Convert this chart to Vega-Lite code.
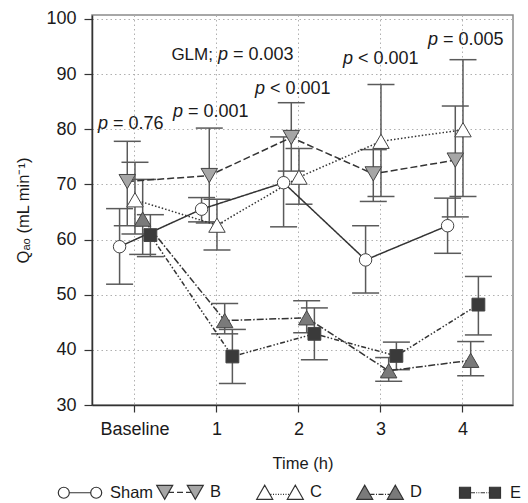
{
  "$schema": "https://vega.github.io/schema/vega-lite/v6.json",
  "width": 421,
  "height": 390,
  "autosize": {"type": "none"},
  "padding": {"left": 92, "top": 15, "right": 15, "bottom": 98},
  "config": {
    "font": "Liberation Sans",
    "view": {"stroke": "#8a8a8a", "strokeWidth": 1.5},
    "axis": {
      "domainColor": "#333333", "domainWidth": 1.5, "tickColor": "#333333", "tickWidth": 1.2,
      "labelFontSize": 18, "labelColor": "#1a1a1a", "titleFontSize": 16.5, "titleFontWeight": "normal",
      "titleColor": "#1a1a1a", "gridColor": "#b0b0b0", "gridDash": [1.5, 3], "gridWidth": 1
    }
  },
  "datasets": {
    "stats": [
      {"group": "Sham", "time": "Baseline", "t": 0, "mean": 58.7, "lo": 51.9, "hi": 65.6},
      {"group": "B", "time": "Baseline", "t": 0, "mean": 70.5, "lo": 62.5, "hi": 77.8},
      {"group": "C", "time": "Baseline", "t": 0, "mean": 67.2, "lo": 61.0, "hi": 74.0},
      {"group": "D", "time": "Baseline", "t": 0, "mean": 63.7, "lo": 57.3, "hi": 70.9},
      {"group": "E", "time": "Baseline", "t": 0, "mean": 60.8, "lo": 56.9, "hi": 64.5},
      {"group": "Sham", "time": "1", "t": 1, "mean": 65.5, "lo": 63.2, "hi": 67.6},
      {"group": "B", "time": "1", "t": 1, "mean": 71.6, "lo": 63.0, "hi": 80.2},
      {"group": "C", "time": "1", "t": 1, "mean": 62.6, "lo": 58.1, "hi": 67.3},
      {"group": "D", "time": "1", "t": 1, "mean": 45.3, "lo": 42.9, "hi": 48.4},
      {"group": "E", "time": "1", "t": 1, "mean": 38.8, "lo": 33.9, "hi": 43.7},
      {"group": "Sham", "time": "2", "t": 2, "mean": 70.3, "lo": 62.3, "hi": 78.6},
      {"group": "B", "time": "2", "t": 2, "mean": 78.5, "lo": 72.4, "hi": 84.8},
      {"group": "C", "time": "2", "t": 2, "mean": 71.3, "lo": 66.4, "hi": 76.5},
      {"group": "D", "time": "2", "t": 2, "mean": 45.8, "lo": 43.1, "hi": 48.9},
      {"group": "E", "time": "2", "t": 2, "mean": 42.9, "lo": 38.2, "hi": 47.6},
      {"group": "Sham", "time": "3", "t": 3, "mean": 56.3, "lo": 50.3, "hi": 62.5},
      {"group": "B", "time": "3", "t": 3, "mean": 71.9, "lo": 66.9, "hi": 76.3},
      {"group": "C", "time": "3", "t": 3, "mean": 77.8, "lo": 67.8, "hi": 88.1},
      {"group": "D", "time": "3", "t": 3, "mean": 36.2, "lo": 34.3, "hi": 38.6},
      {"group": "E", "time": "3", "t": 3, "mean": 38.9, "lo": 36.4, "hi": 41.4},
      {"group": "Sham", "time": "4", "t": 4, "mean": 62.5, "lo": 57.5, "hi": 67.5},
      {"group": "B", "time": "4", "t": 4, "mean": 74.4, "lo": 64.1, "hi": 84.2},
      {"group": "C", "time": "4", "t": 4, "mean": 79.9, "lo": 67.8, "hi": 92.6},
      {"group": "D", "time": "4", "t": 4, "mean": 38.1, "lo": 35.3, "hi": 41.5},
      {"group": "E", "time": "4", "t": 4, "mean": 48.2, "lo": 42.7, "hi": 53.3}
    ],
    "notes": [
      {"tx": -0.268, "ty": 81.0, "sym": "p", "rest": "= 0.76", "pre": ""},
      {"tx": 0.646, "ty": 83.2, "sym": "p", "rest": "= 0.001", "pre": ""},
      {"tx": 1.195, "ty": 93.4, "sym": "p", "rest": "= 0.003", "pre": "GLM;"},
      {"tx": 1.646, "ty": 87.3, "sym": "p", "rest": "< 0.001", "pre": ""},
      {"tx": 2.72, "ty": 92.7, "sym": "p", "rest": "< 0.001", "pre": ""},
      {"tx": 3.756, "ty": 96.1, "sym": "p", "rest": "= 0.005", "pre": ""}
    ]
  },
  "resolve": {"scale": {"x": "independent", "y": "independent"}},
  "layer": [
    {
      "data": {"name": "stats"},
      "encoding": {
        "x": {
          "field": "time", "type": "nominal",
          "scale": {"domain": ["Baseline", "1", "2", "3", "4"], "paddingInner": 0, "paddingOuter": 0.067, "align": 0.18},
          "axis": {"title": "Time (h)", "labelAngle": 0, "tickSize": 7, "labelPadding": 8, "titlePadding": 17, "grid": true, "bandPosition": 0.5}
        },
        "xOffset": {
          "field": "group", "type": "nominal",
          "scale": {"domain": ["Sham", "B", "C", "D", "E"], "paddingInner": 0, "paddingOuter": 0, "range": [21.75, 60.25]}
        }
      },
      "resolve": {"scale": {"shape": "independent", "fill": "independent"}},
      "layer": [
        {
          "mark": {"type": "rule", "color": "#5a5a5a", "strokeWidth": 1.5},
          "encoding": {
            "y": {
              "field": "lo", "type": "quantitative",
              "scale": {"domain": [30, 100.7], "nice": false, "zero": false},
              "axis": {
                "title": "Qₐₒ (mL min⁻¹)",
                "values": [30, 35, 40, 45, 50, 55, 60, 65, 70, 75, 80, 85, 90, 95, 100],
                "labelExpr": "datum.value % 10 === 0 ? datum.label : ''",
                "tickSize": 8, "labelPadding": 8, "titlePadding": 14, "grid": true,
                "gridOpacity": {"condition": {"test": "datum.value % 10 !== 0", "value": 0}, "value": 1}
              }
            },
            "y2": {"field": "hi"}
          }
        },
        {
          "mark": {"type": "tick", "color": "#5a5a5a", "thickness": 1.5, "size": 27, "orient": "horizontal", "opacity": 1},
          "encoding": {"y": {"field": "hi", "type": "quantitative"}}
        },
        {
          "mark": {"type": "tick", "color": "#5a5a5a", "thickness": 1.5, "size": 27, "orient": "horizontal", "opacity": 1},
          "encoding": {"y": {"field": "lo", "type": "quantitative"}}
        },
        {
          "mark": {"type": "line", "color": "#333333", "strokeWidth": 1.5},
          "encoding": {
            "y": {"field": "mean", "type": "quantitative"},
            "order": {"field": "t", "type": "quantitative"},
            "strokeDash": {
              "field": "group", "type": "nominal",
              "scale": {"domain": ["Sham", "B", "C", "D", "E"], "range": [[1, 0], [7, 3], [1.5, 2], [7, 2, 1.5, 2], [5, 2, 1.5, 2, 1.5, 2]]},
              "legend": null
            }
          }
        },
        {
          "mark": {"type": "point", "filled": true, "stroke": "#444444", "strokeWidth": 1, "opacity": 1},
          "encoding": {
            "y": {"field": "mean", "type": "quantitative"},
            "shape": {
              "field": "group", "type": "nominal",
              "scale": {"domain": ["Sham", "B", "C", "D", "E"], "range": ["circle", "triangle-down", "triangle-up", "triangle-up", "square"]},
              "legend": null
            },
            "fill": {
              "field": "group", "type": "nominal",
              "scale": {"domain": ["Sham", "B", "C", "D", "E"], "range": ["#ffffff", "#a6a6a6", "#ffffff", "#7a7a7a", "#3a3a3a"]},
              "legend": null
            },
            "size": {
              "field": "group", "type": "nominal",
              "scale": {"type": "ordinal", "domain": ["Sham", "B", "C", "D", "E"], "range": [155, 270, 270, 270, 165]},
              "legend": null
            }
          }
        },
        {
          "transform": [{"filter": "false"}],
          "mark": {"type": "point", "filled": true, "stroke": "#333333", "strokeWidth": 1.2, "opacity": 1},
          "encoding": {
            "shape": {
              "field": "group", "type": "nominal",
              "scale": {
                "domain": ["Sham", "B", "C", "D", "E"],
                "range": [
                  "M -1.07 0 A 0.55 0.55 0 1 1 -2.17 0 A 0.55 0.55 0 1 1 -1.07 0 Z M -1.07 0 L 1.07 0 M 2.17 0 A 0.55 0.55 0 1 1 1.07 0 A 0.55 0.55 0 1 1 2.17 0 Z",
                  "M -2.33 -0.7 L -0.73 -0.7 L -1.53 0.7 Z M 0.73 -0.7 L 2.33 -0.7 L 1.53 0.7 Z M -1.13 0 L -0.6 0 M -0.3 0 L 0.3 0 M 0.6 0 L 1.13 0",
                  "M -2.33 0.7 L -0.73 0.7 L -1.53 -0.7 Z M 0.73 0.7 L 2.33 0.7 L 1.53 -0.7 Z M -0.95 0.2 L -0.85 0.2 M -0.7 0.2 L -0.6 0.2 M -0.45 0.2 L -0.35 0.2 M -0.2 0.2 L -0.1 0.2 M 0.05 0.2 L 0.15 0.2 M 0.3 0.2 L 0.4 0.2 M 0.55 0.2 L 0.65 0.2 M 0.8 0.2 L 0.9 0.2",
                  "M -2.33 0.7 L -0.73 0.7 L -1.53 -0.7 Z M 0.73 0.7 L 2.33 0.7 L 1.53 -0.7 Z M -1.05 0.2 L -0.55 0.2 M -0.4 0.2 L -0.3 0.2 M -0.15 0.2 L 0.35 0.2 M 0.5 0.2 L 0.6 0.2 M 0.75 0.2 L 1.05 0.2",
                  "M -2.05 -0.55 L -0.95 -0.55 L -0.95 0.55 L -2.05 0.55 Z M 0.95 -0.55 L 2.05 -0.55 L 2.05 0.55 L 0.95 0.55 Z M -0.95 0 L -0.5 0 M -0.38 0 L -0.28 0 M -0.16 0 L -0.06 0 M 0.06 0 L 0.5 0 M 0.62 0 L 0.72 0 M 0.84 0 L 0.95 0"
                ]
              },
              "legend": {
                "title": null, "orient": "none", "legendX": -33, "legendY": 466, "direction": "horizontal", "columns": 5,
                "gridAlign": "all", "symbolSize": 400, "symbolOffset": 10, "labelOffset": 19, "columnPadding": 0,
                "labelFontSize": 16.5, "labelColor": "#1a1a1a", "symbolStrokeWidth": 1.2, "padding": 0, "labelLimit": 0
              }
            },
            "fill": {
              "field": "group", "type": "nominal",
              "scale": {"domain": ["Sham", "B", "C", "D", "E"], "range": ["#ffffff", "#a6a6a6", "#ffffff", "#7a7a7a", "#3a3a3a"]},
              "legend": {
                "title": null, "orient": "none", "legendX": -33, "legendY": 466, "direction": "horizontal", "columns": 5,
                "gridAlign": "all", "symbolSize": 400, "symbolOffset": 10, "labelOffset": 19, "columnPadding": 0,
                "labelFontSize": 16.5, "labelColor": "#1a1a1a", "symbolStrokeWidth": 1.2, "padding": 0, "labelLimit": 0
              }
            }
          }
        }
      ]
    },
    {
      "data": {"name": "notes"},
      "encoding": {
        "x": {"field": "tx", "type": "quantitative", "scale": {"domain": [-0.524, 4.61], "nice": false, "zero": false}, "axis": null},
        "y": {"field": "ty", "type": "quantitative", "scale": {"domain": [30, 100.7], "nice": false, "zero": false}, "axis": null}
      },
      "layer": [
        {
          "mark": {"type": "text", "align": "left", "baseline": "middle", "fontSize": 18, "color": "#1a1a1a"},
          "encoding": {"text": {"field": "rest"}}
        },
        {
          "mark": {"type": "text", "align": "right", "baseline": "middle", "fontSize": 18, "fontStyle": "italic", "dx": -5, "color": "#1a1a1a"},
          "encoding": {"text": {"field": "sym"}}
        },
        {
          "mark": {"type": "text", "align": "right", "baseline": "middle", "fontSize": 17, "dx": -20, "color": "#1a1a1a"},
          "encoding": {"text": {"field": "pre"}}
        }
      ]
    }
  ]
}
